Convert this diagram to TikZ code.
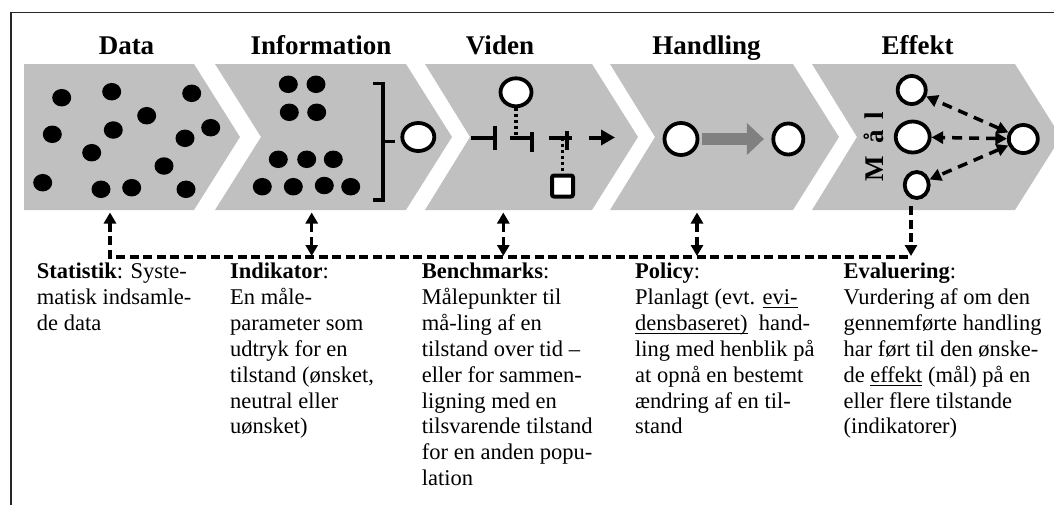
\documentclass[tikz,border=0pt]{standalone}
\usepackage{fontspec}
\setmainfont{Liberation Serif}
\usetikzlibrary{arrows.meta,shapes.geometric}
\definecolor{chevgray}{RGB}{192,192,192}
\definecolor{arrowgray}{RGB}{128,128,128}
\newcommand\myul[1]{\underline{\smash{#1}\rule[-1.8pt]{0pt}{0pt}}}
\begin{document}
\begin{tikzpicture}[x=1pt,y=-1pt,
  chev/.style={fill=chevgray,draw=none},
  dot/.style={ellipse,fill=black,minimum width=19pt,minimum height=17.5pt,inner sep=0pt},
  ring/.style={ellipse,draw=black,line width=3.8pt,fill=white,inner sep=0pt,minimum width=31pt,minimum height=28pt},
  sq/.style={rectangle,draw=black,line width=4pt,fill=white,inner sep=0pt,minimum size=21pt,rounded corners=2pt},
  title/.style={font=\bfseries\fontsize{27}{30}\selectfont,anchor=base,inner sep=0pt},
  body/.style={font=\fontsize{22.5}{25.9}\selectfont,align=left,anchor=north west,inner sep=0pt},
  dl/.style={line width=3.5pt,dash pattern=on 9pt off 4.5pt,>={Triangle[length=11pt,width=12pt]}},
  edash/.style={line width=3.5pt,dash pattern=on 10pt off 7pt,>={Triangle[length=11.5pt,width=12pt]}},
  dotl/.style={line width=3.5pt,dash pattern=on 3pt off 3pt},
  sym/.style={line width=4pt},
  brk/.style={line width=3.5pt}
]
\useasboundingbox (0,0) rectangle (1054,504);
\clip (0,0) rectangle (1054,504);
% frame
\draw[line width=1.8pt,black!85] (11,12.5) rectangle (1062,512);

% chevrons
\fill[chev] (24,64) -- (194,64) -- (240,137) -- (194,210) -- (24,210) -- cycle;
\fill[chev] (215,64) -- (406,64) -- (452,137) -- (406,210) -- (215,210) -- (261,137) -- cycle;
\fill[chev] (425,64) -- (592,64) -- (638,137) -- (592,210) -- (425,210) -- (470,137) -- cycle;
\fill[chev] (610,64) -- (793,64) -- (839,137) -- (793,210) -- (610,210) -- (655,137) -- cycle;
\fill[chev] (812,64) -- (1015,64) -- (1061,137) -- (1015,210) -- (812,210) -- (857,137) -- cycle;

% titles
\node[title] (tData) at (126.5,54) {Data};
\node[title] (tInfo) at (321,54) {Information};
\node[title] (tVid) at (500,54) {Viden};
\node[title] (tHand) at (706.5,54) {Handling};
\node[title] (tEff) at (917.5,54) {Effekt};

% Data dots
\foreach \x/\y [count=\i] in {61.7/97.7,111.7/91.7,191.7/93.3,146.7/115.7,52.3/134.3,113.3/130,210.7/127.7,185/138.3,91.7/152.7,164/166,42.7/182.7,101/189.3,131.7/187.7,186/189.3}
  \node[dot] (d\i) at (\x,\y) {};

% Information dots
\foreach \x/\y [count=\i] in {288.3/84.3,316/84.3,289.3/112.3,316.7/112.3,278.3/159.3,306.7/159.3,333.3/159.3,262.3/186.7,293.3/186.7,324.3/185.5,350.7/186.7}
  \node[dot] (i\i) at (\x,\y) {};

% bracket and indicator ring
\draw[brk] (373,83.5) -- (383,83.5) -- (383,200) -- (373,200);
\draw[brk] (383,141.5) -- (395,141.5);
\node[ring,minimum width=32pt,minimum height=28pt] (iring) at (418.3,137) {};

% Viden
\node[ring,minimum width=31pt,minimum height=28pt] (vc) at (516,92.3) {};
\coordinate (v2) at (516,137.5);
\draw[dotl] (vc) -- (v2);
\draw[sym] (471,137.5) -- (495,137.5) (495,125.5) -- (495,149.5);
\draw[sym] (510,137.5) -- (532,137.5) (532,131.5) -- (532,152);
\draw[sym] (549,137.5) -- (572,137.5) (566.5,131) -- (566.5,150);
\node[sq] (vs) at (562.5,186) {};
\coordinate (v3) at (562.5,137.5);
\draw[dotl] (v3) -- (vs);
\coordinate (va1) at (589,137.5);
\coordinate (va2) at (615,137.5);
\draw[sym,-{Triangle[length=14pt,width=15pt]}] (va1) -- (va2);

% Handling
\node[ring,minimum width=33pt,minimum height=32pt] (h1) at (681,139) {};
\node[ring,minimum width=30pt,minimum height=31pt] (h2) at (788.3,139) {};
\draw[arrowgray,line width=12pt,-{Triangle[length=17pt,width=31pt]},shorten <=3pt,shorten >=7.5pt] (h1) -- (h2);

% Effekt
\node[font=\bfseries\fontsize{27}{30}\selectfont,rotate=90,anchor=base west,inner sep=0pt] (mal) at (883,182) {M\hspace{13pt}å\hspace{10pt}l};
\node[ring,minimum width=28pt,minimum height=28pt] (et) at (911.7,90) {};
\node[ring,minimum width=34pt,minimum height=31pt] (em) at (912.7,137) {};
\node[ring,minimum width=24pt,minimum height=26pt] (eb) at (916.7,185) {};
\node[ring,minimum width=29pt,minimum height=28pt] (er) at (1023.3,139) {};
\draw[edash,<->] (er) -- (et);
\draw[edash,<->] (er) -- (em);
\draw[edash,<->] (er) -- (eb);

% connectors
\coordinate (dB) at (110,212.5);
\coordinate (dJ) at (110,257);
\coordinate (iB) at (311.7,212.5);
\coordinate (iJ) at (311.7,256);
\coordinate (vB) at (503.3,212.5);
\coordinate (vJ) at (503.3,256);
\coordinate (hB) at (697,212.5);
\coordinate (hJ) at (697,256);
\coordinate (eB) at (911,206);
\coordinate (eJ) at (911,256);
\coordinate (eE) at (911,257);
\draw[dl,<-] (dB) -- (dJ) -- (eE);
\draw[dl,->] (eB) -- (eJ);
\draw[dl,<->] (iJ) -- (iB);
\draw[dl,<->] (vJ) -- (vB);
\draw[dl,<->] (hJ) -- (hB);

% texts
\node[body] (tx1) at (36.7,260.2) {\strut\textbf{Statistik}: Syste-\\matisk indsamle-\\de data};
\node[body] (tx2) at (230,260.2) {\strut\textbf{Indikator}:\\En måle-\\parameter som\\udtryk for en\\tilstand (ønsket,\\neutral eller\\uønsket)};
\node[body] (tx3) at (421.7,260.2) {\strut\textbf{Benchmarks}:\\Målepunkter til\\må-ling af en\\tilstand over tid –\\eller for sammen-\\ligning med en\\tilsvarende tilstand\\for en anden popu-\\lation};
\node[body] (tx4) at (635,260.2) {\strut\textbf{Policy}:\\Planlagt (evt. \myul{evi-}\\\myul{densbaseret)}\ \ hand-\\ling med henblik på\\at opnå en bestemt\\ændring af en til-\\stand};
\node[body] (tx5) at (843.3,260.2) {\strut\textbf{Evaluering}:\\Vurdering af om den\\gennemførte handling\\har ført til den ønske-\\de \myul{effekt} (mål) på en\\eller flere tilstande\\(indikatorer)};
\end{tikzpicture}
\end{document}
